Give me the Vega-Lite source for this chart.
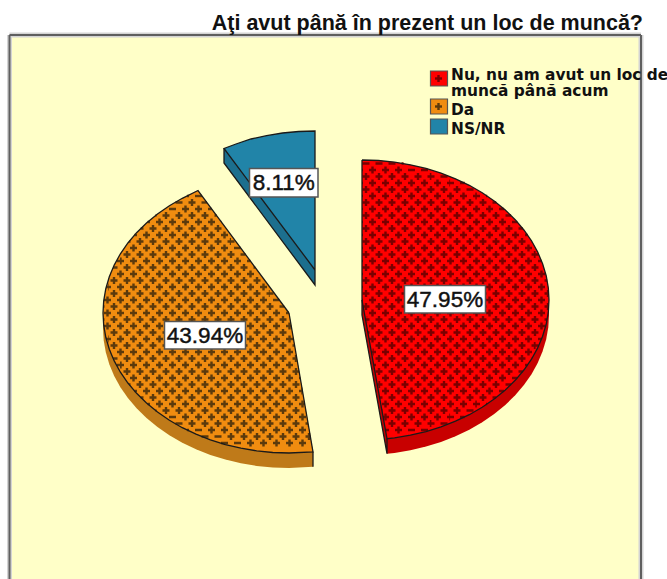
{
"$schema":"https://vega.github.io/schema/vega-lite/v6.json",
"width":632,"height":544,
"autosize":{"type":"none"},
"padding":{"left":9,"top":35,"right":26,"bottom":0},
"background":"#ffffff",
"view":{"fill":"#ffffc8","stroke":null},
"title":{"text":"Aţi avut până în prezent un loc de muncă?","anchor":"end","frame":"group","font":"Liberation Sans","fontSize":21.5,"fontWeight":"bold","color":"#111111","offset":-2,"dx":2},
"datasets":{
"frame":[{"x":9.5,"x2":9.5,"y":35,"y2":579},{"x":9.5,"x2":641,"y":35,"y2":35},{"x":641,"x2":641,"y":35,"y2":579}],
"faces":[
{"part":"Nu","i":0,"x":362,"y":160},{"part":"Nu","i":1,"x":378.3,"y":160.5},{"part":"Nu","i":2,"x":394.5,"y":162.1},{"part":"Nu","i":3,"x":410.4,"y":164.8},{"part":"Nu","i":4,"x":426,"y":168.4},{"part":"Nu","i":5,"x":441,"y":173.1},{"part":"Nu","i":6,"x":455.5,"y":178.8},{"part":"Nu","i":7,"x":469.3,"y":185.3},{"part":"Nu","i":8,"x":482.2,"y":192.8},{"part":"Nu","i":9,"x":494.2,"y":201},{"part":"Nu","i":10,"x":505.3,"y":210},{"part":"Nu","i":11,"x":515.2,"y":219.7},{"part":"Nu","i":12,"x":523.9,"y":230},{"part":"Nu","i":13,"x":531.5,"y":240.8},{"part":"Nu","i":14,"x":537.7,"y":252.1},{"part":"Nu","i":15,"x":542.6,"y":263.8},{"part":"Nu","i":16,"x":546.2,"y":275.7},{"part":"Nu","i":17,"x":548.3,"y":287.8},{"part":"Nu","i":18,"x":549,"y":300},{"part":"Nu","i":19,"x":548.3,"y":312.2},{"part":"Nu","i":20,"x":546.2,"y":324.3},{"part":"Nu","i":21,"x":542.6,"y":336.2},{"part":"Nu","i":22,"x":537.7,"y":347.9},{"part":"Nu","i":23,"x":531.5,"y":359.2},{"part":"Nu","i":24,"x":523.9,"y":370},{"part":"Nu","i":25,"x":515.2,"y":380.3},{"part":"Nu","i":26,"x":505.3,"y":390},{"part":"Nu","i":27,"x":494.2,"y":399},{"part":"Nu","i":28,"x":482.2,"y":407.2},{"part":"Nu","i":29,"x":469.3,"y":414.7},{"part":"Nu","i":30,"x":455.5,"y":421.2},{"part":"Nu","i":31,"x":441,"y":426.9},{"part":"Nu","i":32,"x":426,"y":431.6},{"part":"Nu","i":33,"x":410.4,"y":435.2},{"part":"Nu","i":34,"x":394.5,"y":437.9},{"part":"Nu","i":35,"x":387,"y":438.7},{"part":"Nu","i":36,"x":362,"y":300},{"part":"Nu","i":37,"x":362,"y":160},
{"part":"Da","i":0,"x":289,"y":313},{"part":"Da","i":1,"x":313,"y":451.8},{"part":"Da","i":2,"x":289,"y":453},{"part":"Da","i":3,"x":272.8,"y":452.5},{"part":"Da","i":4,"x":256.7,"y":450.9},{"part":"Da","i":5,"x":240.9,"y":448.2},{"part":"Da","i":6,"x":225.4,"y":444.6},{"part":"Da","i":7,"x":210.4,"y":439.9},{"part":"Da","i":8,"x":196,"y":434.2},{"part":"Da","i":9,"x":182.3,"y":427.7},{"part":"Da","i":10,"x":169.4,"y":420.2},{"part":"Da","i":11,"x":157.5,"y":412},{"part":"Da","i":12,"x":146.5,"y":403},{"part":"Da","i":13,"x":136.6,"y":393.3},{"part":"Da","i":14,"x":127.9,"y":383},{"part":"Da","i":15,"x":120.4,"y":372.2},{"part":"Da","i":16,"x":114.2,"y":360.9},{"part":"Da","i":17,"x":109.3,"y":349.2},{"part":"Da","i":18,"x":105.8,"y":337.3},{"part":"Da","i":19,"x":103.7,"y":325.2},{"part":"Da","i":20,"x":103,"y":313},{"part":"Da","i":21,"x":103.7,"y":300.8},{"part":"Da","i":22,"x":105.8,"y":288.7},{"part":"Da","i":23,"x":109.3,"y":276.8},{"part":"Da","i":24,"x":114.2,"y":265.1},{"part":"Da","i":25,"x":120.4,"y":253.8},{"part":"Da","i":26,"x":127.9,"y":243},{"part":"Da","i":27,"x":136.6,"y":232.7},{"part":"Da","i":28,"x":146.5,"y":223},{"part":"Da","i":29,"x":157.5,"y":214},{"part":"Da","i":30,"x":169.4,"y":205.8},{"part":"Da","i":31,"x":182.3,"y":198.3},{"part":"Da","i":32,"x":198,"y":190.5},{"part":"Da","i":33,"x":289,"y":313},
{"part":"NS/NR","i":0,"x":315,"y":270},{"part":"NS/NR","i":1,"x":315,"y":131},{"part":"NS/NR","i":2,"x":298.7,"y":131.5},{"part":"NS/NR","i":3,"x":282.5,"y":133},{"part":"NS/NR","i":4,"x":266.6,"y":135.7},{"part":"NS/NR","i":5,"x":251,"y":139},{"part":"NS/NR","i":6,"x":236,"y":144},{"part":"NS/NR","i":7,"x":224,"y":148.5},{"part":"NS/NR","i":8,"x":315,"y":270}
],
"bases":[
{"part":"Nu","i":0,"x":362,"y":300},{"part":"Nu","i":1,"x":362,"y":315},{"part":"Nu","i":2,"x":387,"y":453.7},{"part":"Nu","i":3,"x":394.5,"y":452.9},{"part":"Nu","i":4,"x":410.4,"y":450.2},{"part":"Nu","i":5,"x":426,"y":446.6},{"part":"Nu","i":6,"x":441,"y":441.9},{"part":"Nu","i":7,"x":455.5,"y":436.2},{"part":"Nu","i":8,"x":469.3,"y":429.7},{"part":"Nu","i":9,"x":482.2,"y":422.2},{"part":"Nu","i":10,"x":494.2,"y":414},{"part":"Nu","i":11,"x":505.3,"y":405},{"part":"Nu","i":12,"x":515.2,"y":395.3},{"part":"Nu","i":13,"x":523.9,"y":385},{"part":"Nu","i":14,"x":531.5,"y":374.2},{"part":"Nu","i":15,"x":537.7,"y":362.9},{"part":"Nu","i":16,"x":542.6,"y":351.2},{"part":"Nu","i":17,"x":546.2,"y":339.3},{"part":"Nu","i":18,"x":548.3,"y":327.2},{"part":"Nu","i":19,"x":549,"y":315},{"part":"Nu","i":20,"x":549,"y":300},{"part":"Nu","i":21,"x":362,"y":300},
{"part":"Da","i":0,"x":103,"y":313},{"part":"Da","i":1,"x":103,"y":328},{"part":"Da","i":2,"x":103.7,"y":340.2},{"part":"Da","i":3,"x":105.8,"y":352.3},{"part":"Da","i":4,"x":109.3,"y":364.2},{"part":"Da","i":5,"x":114.2,"y":375.9},{"part":"Da","i":6,"x":120.4,"y":387.2},{"part":"Da","i":7,"x":127.9,"y":398},{"part":"Da","i":8,"x":136.6,"y":408.3},{"part":"Da","i":9,"x":146.5,"y":418},{"part":"Da","i":10,"x":157.5,"y":427},{"part":"Da","i":11,"x":169.4,"y":435.2},{"part":"Da","i":12,"x":182.3,"y":442.7},{"part":"Da","i":13,"x":196,"y":449.2},{"part":"Da","i":14,"x":210.4,"y":454.9},{"part":"Da","i":15,"x":225.4,"y":459.6},{"part":"Da","i":16,"x":240.9,"y":463.2},{"part":"Da","i":17,"x":256.7,"y":465.9},{"part":"Da","i":18,"x":272.8,"y":467.5},{"part":"Da","i":19,"x":289,"y":468},{"part":"Da","i":20,"x":313,"y":466.8},{"part":"Da","i":21,"x":313,"y":451.8},{"part":"Da","i":22,"x":289,"y":313},{"part":"Da","i":23,"x":103,"y":313},
{"part":"NS/NR","i":0,"x":224,"y":148.5},{"part":"NS/NR","i":1,"x":224,"y":163},{"part":"NS/NR","i":2,"x":315,"y":285},{"part":"NS/NR","i":3,"x":315,"y":270},{"part":"NS/NR","i":4,"x":224,"y":148.5}
],
"edges":[
{"part":"a","i":0,"x":362,"y":300},{"part":"a","i":1,"x":362,"y":315},{"part":"a","i":2,"x":387,"y":453.7},{"part":"a","i":3,"x":387,"y":438.7},
{"part":"b","i":0,"x":313,"y":451.8},{"part":"b","i":1,"x":313,"y":466.8},
{"part":"c","i":0,"x":224,"y":148.5},{"part":"c","i":1,"x":224,"y":163},{"part":"c","i":2,"x":315,"y":285},{"part":"c","i":3,"x":315,"y":270}
],
"hatch":[
{"part":"Nu","y":163.5,"xl":362,"xls":401.5,"xr":403.6,"xrs":401.5,"xc":401.5},
{"part":"Nu","y":170,"xl":362,"xls":362,"xr":431.4,"xrs":403.6,"xc":395},
{"part":"Nu","y":176.5,"xl":362,"xls":362,"xr":450.1,"xrs":431.4,"xc":401.5},
{"part":"Nu","y":183,"xl":362,"xls":362,"xr":464.7,"xrs":450.1,"xc":395},
{"part":"Nu","y":189.5,"xl":362,"xls":362,"xr":476.8,"xrs":464.7,"xc":401.5},
{"part":"Nu","y":196,"xl":362,"xls":362,"xr":487.2,"xrs":476.8,"xc":395},
{"part":"Nu","y":202.5,"xl":362,"xls":362,"xr":496.2,"xrs":487.2,"xc":401.5},
{"part":"Nu","y":209,"xl":362,"xls":362,"xr":504.1,"xrs":496.2,"xc":395},
{"part":"Nu","y":215.5,"xl":362,"xls":362,"xr":511.1,"xrs":504.1,"xc":401.5},
{"part":"Nu","y":222,"xl":362,"xls":362,"xr":517.3,"xrs":511.1,"xc":395},
{"part":"Nu","y":228.5,"xl":362,"xls":362,"xr":522.8,"xrs":517.3,"xc":401.5},
{"part":"Nu","y":235,"xl":362,"xls":362,"xr":527.6,"xrs":522.8,"xc":395},
{"part":"Nu","y":241.5,"xl":362,"xls":362,"xr":531.9,"xrs":527.6,"xc":401.5},
{"part":"Nu","y":248,"xl":362,"xls":362,"xr":535.6,"xrs":531.9,"xc":395},
{"part":"Nu","y":254.5,"xl":362,"xls":362,"xr":538.8,"xrs":535.6,"xc":401.5},
{"part":"Nu","y":261,"xl":362,"xls":362,"xr":541.6,"xrs":538.8,"xc":395},
{"part":"Nu","y":267.5,"xl":362,"xls":362,"xr":543.9,"xrs":541.6,"xc":401.5},
{"part":"Nu","y":274,"xl":362,"xls":362,"xr":545.7,"xrs":543.9,"xc":395},
{"part":"Nu","y":280.5,"xl":362,"xls":362,"xr":547.2,"xrs":545.7,"xc":401.5},
{"part":"Nu","y":287,"xl":362,"xls":362,"xr":548.2,"xrs":547.2,"xc":395},
{"part":"Nu","y":293.5,"xl":362,"xls":362,"xr":548.8,"xrs":548.2,"xc":401.5},
{"part":"Nu","y":300,"xl":362,"xls":363.2,"xr":549,"xrs":548.8,"xc":395},
{"part":"Nu","y":306.5,"xl":363.2,"xls":364.3,"xr":548.8,"xrs":548.2,"xc":401.5},
{"part":"Nu","y":313,"xl":364.3,"xls":365.5,"xr":548.2,"xrs":547.2,"xc":395},
{"part":"Nu","y":319.5,"xl":365.5,"xls":366.7,"xr":547.2,"xrs":545.7,"xc":401.5},
{"part":"Nu","y":326,"xl":366.7,"xls":367.9,"xr":545.7,"xrs":543.9,"xc":395},
{"part":"Nu","y":332.5,"xl":367.9,"xls":369,"xr":543.9,"xrs":541.6,"xc":401.5},
{"part":"Nu","y":339,"xl":369,"xls":370.2,"xr":541.6,"xrs":538.8,"xc":395},
{"part":"Nu","y":345.5,"xl":370.2,"xls":371.4,"xr":538.8,"xrs":535.6,"xc":401.5},
{"part":"Nu","y":352,"xl":371.4,"xls":372.5,"xr":535.6,"xrs":531.9,"xc":395},
{"part":"Nu","y":358.5,"xl":372.5,"xls":373.7,"xr":531.9,"xrs":527.6,"xc":401.5},
{"part":"Nu","y":365,"xl":373.7,"xls":374.9,"xr":527.6,"xrs":522.8,"xc":395},
{"part":"Nu","y":371.5,"xl":374.9,"xls":376,"xr":522.8,"xrs":517.3,"xc":401.5},
{"part":"Nu","y":378,"xl":376,"xls":377.2,"xr":517.3,"xrs":511.1,"xc":395},
{"part":"Nu","y":384.5,"xl":377.2,"xls":378.4,"xr":511.1,"xrs":504.1,"xc":401.5},
{"part":"Nu","y":391,"xl":378.4,"xls":379.6,"xr":504.1,"xrs":496.2,"xc":395},
{"part":"Nu","y":397.5,"xl":379.6,"xls":380.7,"xr":496.2,"xrs":487.2,"xc":401.5},
{"part":"Nu","y":404,"xl":380.7,"xls":381.9,"xr":487.2,"xrs":476.8,"xc":395},
{"part":"Nu","y":410.5,"xl":381.9,"xls":383.1,"xr":476.8,"xrs":464.7,"xc":401.5},
{"part":"Nu","y":417,"xl":383.1,"xls":384.2,"xr":464.7,"xrs":450.1,"xc":395},
{"part":"Nu","y":423.5,"xl":384.2,"xls":385.4,"xr":450.1,"xrs":431.4,"xc":401.5},
{"part":"Nu","y":430,"xl":385.4,"xls":386.6,"xr":431.4,"xrs":403.6,"xc":395},
{"part":"Da","y":196,"xl":186.9,"xls":195,"xr":202.1,"xrs":195,"xc":195},
{"part":"Da","y":202.5,"xl":174.8,"xls":186.9,"xr":206.9,"xrs":202.1,"xc":201.5},
{"part":"Da","y":209,"xl":164.5,"xls":174.8,"xr":211.7,"xrs":206.9,"xc":195},
{"part":"Da","y":215.5,"xl":155.5,"xls":164.5,"xr":216.6,"xrs":211.7,"xc":201.5},
{"part":"Da","y":222,"xl":147.6,"xls":155.5,"xr":221.4,"xrs":216.6,"xc":195},
{"part":"Da","y":228.5,"xl":140.7,"xls":147.6,"xr":226.2,"xrs":221.4,"xc":201.5},
{"part":"Da","y":235,"xl":134.5,"xls":140.7,"xr":231,"xrs":226.2,"xc":195},
{"part":"Da","y":241.5,"xl":129.1,"xls":134.5,"xr":235.9,"xrs":231,"xc":201.5},
{"part":"Da","y":248,"xl":124.3,"xls":129.1,"xr":240.7,"xrs":235.9,"xc":195},
{"part":"Da","y":254.5,"xl":120,"xls":124.3,"xr":245.5,"xrs":240.7,"xc":201.5},
{"part":"Da","y":261,"xl":116.3,"xls":120,"xr":250.4,"xrs":245.5,"xc":195},
{"part":"Da","y":267.5,"xl":113.1,"xls":116.3,"xr":255.2,"xrs":250.4,"xc":201.5},
{"part":"Da","y":274,"xl":110.4,"xls":113.1,"xr":260,"xrs":255.2,"xc":247},
{"part":"Da","y":280.5,"xl":108.1,"xls":110.4,"xr":264.9,"xrs":260,"xc":253.5},
{"part":"Da","y":287,"xl":106.2,"xls":108.1,"xr":269.7,"xrs":264.9,"xc":247},
{"part":"Da","y":293.5,"xl":104.8,"xls":106.2,"xr":274.5,"xrs":269.7,"xc":253.5},
{"part":"Da","y":300,"xl":103.8,"xls":104.8,"xr":279.3,"xrs":274.5,"xc":247},
{"part":"Da","y":306.5,"xl":103.2,"xls":103.8,"xr":284.2,"xrs":279.3,"xc":253.5},
{"part":"Da","y":313,"xl":103,"xls":103.2,"xr":289,"xrs":284.2,"xc":247},
{"part":"Da","y":319.5,"xl":103.2,"xls":103.8,"xr":290.1,"xrs":290.1,"xc":253.5},
{"part":"Da","y":326,"xl":103.8,"xls":104.8,"xr":291.2,"xrs":291.2,"xc":247},
{"part":"Da","y":332.5,"xl":104.8,"xls":106.2,"xr":292.4,"xrs":292.4,"xc":253.5},
{"part":"Da","y":339,"xl":106.2,"xls":108.1,"xr":293.5,"xrs":293.5,"xc":247},
{"part":"Da","y":345.5,"xl":108.1,"xls":110.4,"xr":294.6,"xrs":294.6,"xc":253.5},
{"part":"Da","y":352,"xl":110.4,"xls":113.1,"xr":295.7,"xrs":295.7,"xc":247},
{"part":"Da","y":358.5,"xl":113.1,"xls":116.3,"xr":296.8,"xrs":296.8,"xc":253.5},
{"part":"Da","y":365,"xl":116.3,"xls":120,"xr":298,"xrs":298,"xc":247},
{"part":"Da","y":371.5,"xl":120,"xls":124.3,"xr":299.1,"xrs":299.1,"xc":253.5},
{"part":"Da","y":378,"xl":124.3,"xls":129.1,"xr":300.2,"xrs":300.2,"xc":247},
{"part":"Da","y":384.5,"xl":129.1,"xls":134.5,"xr":301.3,"xrs":301.3,"xc":253.5},
{"part":"Da","y":391,"xl":134.5,"xls":140.7,"xr":302.4,"xrs":302.4,"xc":247},
{"part":"Da","y":397.5,"xl":140.7,"xls":147.6,"xr":303.6,"xrs":303.6,"xc":253.5},
{"part":"Da","y":404,"xl":147.6,"xls":155.5,"xr":304.7,"xrs":304.7,"xc":247},
{"part":"Da","y":410.5,"xl":155.5,"xls":164.5,"xr":305.8,"xrs":305.8,"xc":253.5},
{"part":"Da","y":417,"xl":164.5,"xls":174.8,"xr":306.9,"xrs":306.9,"xc":247},
{"part":"Da","y":423.5,"xl":174.8,"xls":186.9,"xr":308,"xrs":308,"xc":253.5},
{"part":"Da","y":430,"xl":186.9,"xls":201.4,"xr":309.2,"xrs":309.2,"xc":247},
{"part":"Da","y":436.5,"xl":201.4,"xls":220,"xr":310.3,"xrs":310.3,"xc":253.5},
{"part":"Da","y":443,"xl":220,"xls":247,"xr":311.4,"xrs":311.4,"xc":247},
{"part":"Nu","y":78.5,"xl":435,"xls":435,"xr":442,"xrs":442,"xc":435},
{"part":"Da","y":106.5,"xl":435,"xls":435,"xr":442,"xrs":442,"xc":435}
],
"labels":[
{"label":"47.95%","x":404.5,"x2":485.5,"y":285.5,"y2":313,"xm":445,"ym":299.5},
{"label":"43.94%","x":164.5,"x2":245.5,"y":321.5,"y2":349,"xm":205,"ym":335.5},
{"label":"8.11%","x":249.5,"x2":318,"y":168.5,"y2":197,"xm":283.7,"ym":183}
],
"legend":[
{"part":"Nu","label":"Nu, nu am avut un loc de\nmuncă până acum","x":430.5,"x2":447.5,"y":71,"y2":86,"xt":451,"yt":75},
{"part":"Da","label":"Da","x":430.5,"x2":447.5,"y":99,"y2":114,"xt":451,"yt":109.5},
{"part":"NS/NR","label":"NS/NR","x":430.5,"x2":447.5,"y":119,"y2":134,"xt":451,"yt":128.5}
]
},
"layer":[
{"data":{"name":"frame"},"mark":{"type":"rule","stroke":"#d4d4d4","strokeWidth":5},
 "encoding":{"x":{"field":"x","type":"quantitative","scale":{"domain":[9,641],"nice":false,"zero":false},"axis":null},"x2":{"field":"x2"},"y":{"field":"y","type":"quantitative","scale":{"domain":[579,35],"nice":false,"zero":false},"axis":null},"y2":{"field":"y2"}}},
{"data":{"name":"frame"},"mark":{"type":"rule","stroke":"#5f5f5f","strokeWidth":2},
 "encoding":{"x":{"field":"x","type":"quantitative"},"x2":{"field":"x2"},"y":{"field":"y","type":"quantitative"},"y2":{"field":"y2"}}},
{"data":{"name":"bases"},"mark":{"type":"line","strokeWidth":0},
 "encoding":{"x":{"field":"x","type":"quantitative"},"y":{"field":"y","type":"quantitative"},"order":{"field":"i"},"detail":{"field":"part"},
 "fill":{"field":"part","type":"nominal","legend":null,"scale":{"domain":["Nu","Da","NS/NR"],"range":["#c80000","#bf7a19","#1c6f8e"]}}}},
{"data":{"name":"faces"},"mark":{"type":"line","strokeWidth":0},
 "encoding":{"x":{"field":"x","type":"quantitative"},"y":{"field":"y","type":"quantitative"},"order":{"field":"i"},"detail":{"field":"part"},
 "fill":{"field":"part","type":"nominal","legend":null,"scale":{"domain":["Nu","Da","NS/NR"],"range":["#ff0000","#f08c10","#2184a8"]}}}},
{"data":{"name":"legend"},"mark":{"type":"rect","stroke":"#555555","strokeWidth":1.2},
 "encoding":{"x":{"field":"x","type":"quantitative"},"x2":{"field":"x2"},"y":{"field":"y","type":"quantitative"},"y2":{"field":"y2"},
 "fill":{"field":"part","type":"nominal","legend":null,"scale":{"domain":["Nu","Da","NS/NR"],"range":["#ff0000","#f08c10","#2184a8"]}}}},
{"data":{"name":"hatch"},"mark":{"type":"rule","strokeWidth":2.4,"strokeDash":[7,6]},
 "encoding":{"x":{"field":"xc","type":"quantitative"},"x2":{"field":"xr"},"y":{"field":"y","type":"quantitative"},"stroke":{"field":"part","type":"nominal","legend":null,"scale":{"domain":["Nu","Da"],"range":["#7a0000","#5c3a0c"]}}}},
{"data":{"name":"hatch"},"mark":{"type":"rule","strokeWidth":7,"strokeDash":[0,2.3,2.4,8.3]},
 "encoding":{"x":{"field":"xc","type":"quantitative"},"x2":{"field":"xrs"},"y":{"field":"y","type":"quantitative"},"stroke":{"field":"part","type":"nominal","legend":null,"scale":{"domain":["Nu","Da"],"range":["#7a0000","#5c3a0c"]}}}},
{"data":{"name":"hatch"},"mark":{"type":"rule","strokeWidth":2.4,"strokeDash":[0,6,7,0]},
 "encoding":{"x":{"field":"xc","type":"quantitative"},"x2":{"field":"xl"},"y":{"field":"y","type":"quantitative"},"stroke":{"field":"part","type":"nominal","legend":null,"scale":{"domain":["Nu","Da"],"range":["#7a0000","#5c3a0c"]}}}},
{"data":{"name":"hatch"},"mark":{"type":"rule","strokeWidth":7,"strokeDash":[0,8.3,2.4,2.3]},
 "encoding":{"x":{"field":"xc","type":"quantitative"},"x2":{"field":"xls"},"y":{"field":"y","type":"quantitative"},"stroke":{"field":"part","type":"nominal","legend":null,"scale":{"domain":["Nu","Da"],"range":["#7a0000","#5c3a0c"]}}}},
{"data":{"name":"faces"},"mark":{"type":"line","stroke":"#1a1a1a","strokeWidth":1.3},
 "encoding":{"x":{"field":"x","type":"quantitative"},"y":{"field":"y","type":"quantitative"},"order":{"field":"i"},"detail":{"field":"part"}}},
{"data":{"name":"edges"},"mark":{"type":"line","stroke":"#1a1a1a","strokeWidth":1.3},
 "encoding":{"x":{"field":"x","type":"quantitative"},"y":{"field":"y","type":"quantitative"},"order":{"field":"i"},"detail":{"field":"part"}}},
{"data":{"name":"labels"},"mark":{"type":"rect","fill":"#ffffff","stroke":"#555555","strokeWidth":1.5},
 "encoding":{"x":{"field":"x","type":"quantitative"},"x2":{"field":"x2"},"y":{"field":"y","type":"quantitative"},"y2":{"field":"y2"}}},
{"data":{"name":"labels"},"mark":{"type":"text","font":"Liberation Sans","fontSize":22.5,"color":"#111111","stroke":"#111111","strokeWidth":0.45,"align":"center","baseline":"middle"},
 "encoding":{"x":{"field":"xm","type":"quantitative"},"y":{"field":"ym","type":"quantitative"},"text":{"field":"label"}}},
{"data":{"name":"legend"},"mark":{"type":"text","font":"DejaVu Sans","fontWeight":"bold","fontSize":15.4,"color":"#111111","align":"left","baseline":"middle","lineBreak":"\n","lineHeight":16},
 "encoding":{"x":{"field":"xt","type":"quantitative"},"y":{"field":"yt","type":"quantitative"},"text":{"field":"label"}}}
],
"resolve":{"scale":{"fill":"independent","stroke":"independent"}}
}
